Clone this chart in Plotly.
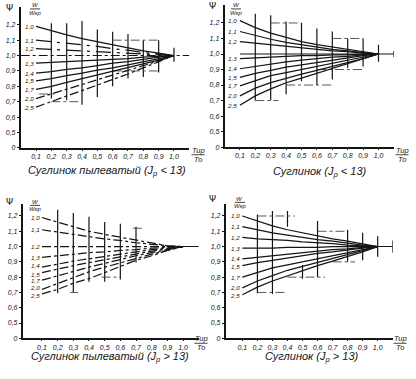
import plotly.graph_objects as go

# ---------------- data ----------------
X = [0.1, 0.2, 0.3, 0.4, 0.5, 0.6, 0.7, 0.8, 0.9, 1.0]
RATIO_LABELS = ["1,0", "1,1", "1,2", "1,3", "1,4", "1,5", "1,7", "2,0", "2,5"]
PSI_TICKS = [0.4, 0.5, 0.6, 0.7, 0.8, 0.9, 1.0, 1.1, 1.2]
PSI_TICKTEXT = ["0", "0,5", "0,6", "0,7", "0,8", "0,9", "1,0", "1,1", "1,2"]
X_TICKTEXT = ["0,1", "0,2", "0,3", "0,4", "0,5", "0,6", "0,7", "0,8", "0,9", "1,0"]
TITLES = ["Суглинок пылеватый (J<sub>р</sub> < 13)", "Суглинок (J<sub>р</sub> < 13)",
          "Суглинок пылеватый (J<sub>р</sub> > 13)", "Суглинок (J<sub>р</sub> > 13)"]
X_TITLE_NUM, X_TITLE_DEN = "Тир", "То"
W_TITLE_NUM, W_TITLE_DEN = "W", "Wкр"

p1_curves = [
    [1.19, 1.16, 1.135, 1.11, 1.09, 1.07, 1.05, 1.03, 1.015, 1.0],
    [1.10, 1.09, 1.08, 1.07, 1.06, 1.045, 1.035, 1.02, 1.01, 1.0],
    [1.045, 1.04, 1.035, 1.03, 1.025, 1.02, 1.015, 1.01, 1.005, 1.0],
    [0.95, 0.955, 0.96, 0.965, 0.97, 0.975, 0.98, 0.99, 0.995, 1.0],
    [0.885, 0.895, 0.91, 0.92, 0.935, 0.95, 0.96, 0.975, 0.99, 1.0],
    [0.835, 0.85, 0.87, 0.885, 0.905, 0.92, 0.94, 0.96, 0.98, 1.0],
    [0.78, 0.80, 0.825, 0.85, 0.87, 0.895, 0.92, 0.945, 0.97, 1.0],
    [0.72, 0.75, 0.78, 0.81, 0.84, 0.87, 0.90, 0.93, 0.965, 1.0],
    [0.665, 0.70, 0.74, 0.775, 0.81, 0.845, 0.88, 0.92, 0.96, 1.0],
]
p2_curves = [
    [1.215, 1.17, 1.135, 1.105, 1.08, 1.06, 1.045, 1.03, 1.015, 1.0],
    [1.145, 1.12, 1.095, 1.075, 1.06, 1.045, 1.03, 1.02, 1.01, 1.0],
    [1.08, 1.07, 1.06, 1.05, 1.04, 1.03, 1.02, 1.015, 1.005, 1.0],
    [0.97, 0.975, 0.98, 0.985, 0.99, 0.99, 0.995, 0.995, 1.0, 1.0],
    [0.905, 0.92, 0.935, 0.95, 0.96, 0.97, 0.98, 0.985, 0.995, 1.0],
    [0.85, 0.875, 0.895, 0.915, 0.93, 0.945, 0.96, 0.975, 0.99, 1.0],
    [0.795, 0.83, 0.86, 0.88, 0.90, 0.92, 0.94, 0.96, 0.98, 1.0],
    [0.73, 0.78, 0.815, 0.845, 0.87, 0.895, 0.92, 0.945, 0.97, 1.0],
    [0.67, 0.73, 0.775, 0.815, 0.845, 0.875, 0.905, 0.935, 0.965, 1.0],
]
p3_curves = [
    [1.19, 1.16, 1.13, 1.10, 1.08, 1.06, 1.04, 1.02, 1.005, 1.0],
    [1.11, 1.095, 1.08, 1.065, 1.05, 1.04, 1.025, 1.015, 1.005, 1.0],
    [1.0, 1.0, 1.0, 1.0, 1.0, 1.0, 1.0, 1.0, 1.0, 1.0],
    [0.93, 0.94, 0.95, 0.96, 0.965, 0.975, 0.98, 0.99, 0.995, 1.0],
    [0.865, 0.885, 0.905, 0.92, 0.935, 0.95, 0.965, 0.98, 0.99, 1.0],
    [0.83, 0.855, 0.875, 0.895, 0.915, 0.935, 0.955, 0.97, 0.985, 1.0],
    [0.78, 0.81, 0.84, 0.865, 0.89, 0.915, 0.94, 0.96, 0.98, 1.0],
    [0.72, 0.76, 0.80, 0.835, 0.865, 0.895, 0.925, 0.95, 0.975, 1.0],
    [0.69, 0.72, 0.76, 0.79, 0.83, 0.87, 0.91, 0.94, 0.975, 1.0],
]
p4_curves = [
    [1.20, 1.165, 1.135, 1.11, 1.09, 1.07, 1.05, 1.035, 1.015, 1.0],
    [1.13, 1.11, 1.09, 1.075, 1.06, 1.045, 1.035, 1.02, 1.01, 1.0],
    [1.06, 1.05, 1.045, 1.04, 1.03, 1.025, 1.02, 1.01, 1.005, 1.0],
    [0.99, 0.99, 0.99, 0.995, 0.995, 0.995, 1.0, 1.0, 1.0, 1.0],
    [0.92, 0.93, 0.94, 0.95, 0.96, 0.97, 0.98, 0.985, 0.995, 1.0],
    [0.875, 0.895, 0.91, 0.925, 0.94, 0.955, 0.965, 0.98, 0.99, 1.0],
    [0.80, 0.83, 0.86, 0.88, 0.90, 0.92, 0.94, 0.96, 0.98, 1.0],
    [0.73, 0.775, 0.81, 0.845, 0.87, 0.895, 0.92, 0.945, 0.97, 1.0],
    [0.685, 0.735, 0.775, 0.81, 0.845, 0.875, 0.905, 0.935, 0.965, 1.0],
]

# scatter ranges (vertical bars)
p1_bar_x = [0.2, 0.3, 0.4, 0.5, 0.6, 0.7, 0.8, 0.9, 1.0]
p1_bar_lo = [0.72, 0.71, 0.68, 0.73, 0.80, 0.85, 0.86, 0.89, 0.96]
p1_bar_hi = [1.21, 1.21, 1.225, 1.17, 1.155, 1.14, 1.10, 1.10, 1.05]
p2_bar_x = [0.2, 0.3, 0.4, 0.5, 0.6, 0.7, 0.8, 0.9, 1.0, 1.1]
p2_bar_lo = [0.70, 0.70, 0.74, 0.825, 0.80, 0.835, 0.91, 0.92, 0.95, 0.98]
p2_bar_hi = [1.26, 1.25, 1.21, 1.20, 1.165, 1.145, 1.10, 1.10, 1.06, 1.02]
p3_bar_x = [0.2, 0.3, 0.4, 0.5, 0.6, 0.7]
p3_bar_lo = [0.695, 0.70, 0.77, 0.77, 0.785, 0.895]
p3_bar_hi = [1.24, 1.22, 1.195, 1.16, 1.15, 1.13]
p4_bar_x = [0.2, 0.3, 0.4, 0.5, 0.6, 0.8, 0.9, 1.0, 1.1]
p4_bar_lo = [0.695, 0.69, 1.13, 0.79, 0.80, 0.90, 0.91, 0.933, 0.96]
p4_bar_hi = [1.21, 1.233, 1.233, 0.88, 1.167, 1.11, 1.09, 1.067, 1.04]

# horizontal range marks
p1_h_y = [1.10, 0.90, 0.70, 0.75]
p1_h_x0 = [0.6, 0.6, 0.2, 0.12]
p1_h_x1 = [0.9, 0.9, 0.4, 0.22]
p2_h_y = [1.20, 1.10, 0.90, 0.80, 0.70]
p2_h_x0 = [0.3, 0.7, 0.6, 0.4, 0.2]
p2_h_x1 = [0.5, 0.9, 0.9, 0.7, 0.35]
p3_h_y = [0.70, 0.80, 1.12]
p3_h_x0 = [0.28, 0.48, 0.68]
p3_h_x1 = [0.33, 0.60, 0.75]
p4_h_y = [1.20, 1.10, 0.90, 0.80, 0.70]
p4_h_x0 = [0.2, 0.6, 0.7, 0.4, 0.2]
p4_h_x1 = [0.45, 0.8, 0.85, 0.65, 0.38]

# reference line Psi = 1 start
ref_x0 = [0.0, 0.1, 0.9, 0.8]

curves = [p1_curves, p2_curves, p3_curves, p4_curves]
bars = [(p1_bar_x, p1_bar_lo, p1_bar_hi), (p2_bar_x, p2_bar_lo, p2_bar_hi),
        (p3_bar_x, p3_bar_lo, p3_bar_hi), (p4_bar_x, p4_bar_lo, p4_bar_hi)]
hsegs = [(p1_h_y, p1_h_x0, p1_h_x1), (p2_h_y, p2_h_x0, p2_h_x1),
         (p3_h_y, p3_h_x0, p3_h_x1), (p4_h_y, p4_h_x0, p4_h_x1)]

# ---------------- styling / layout ----------------
W, H = 416, 379
INK = "#151515"
panels = [
    dict(xd=(20.7, 189.3), yd=(149, 7), xr=(0.0, 1.1), yr=(0.4, 1.316),
         dash=["solid", "longdashdot", "longdashdot", "solid", "solid", "solid", "solid", "dashdot", "dashdot"],
         ref_dash="dashdot",
         title_xy=(107, 172), frac_xy=(198, 156), psi_xy=(9, 8), w_xy=(35, 9),
         lab_shift=[0, 0, 0, 0, 0, 0, 0, 0, 0]),
    dict(xd=(224.5, 393.9), yd=(148.3, 5), xr=(0.0, 1.1), yr=(0.4, 1.316),
         dash=["solid"] * 9, ref_dash="solid",
         title_xy=(320, 173), frac_xy=(402, 156), psi_xy=(212, 6), w_xy=(236, 9),
         lab_shift=[0, 0, 0, 0, 0, 0, 0, 0, 0]),
    dict(xd=(22.7, 198.7), yd=(341, 206), xr=(-0.023, 1.1), yr=(0.4, 1.276),
         dash=["dashdot"] * 9, ref_dash="solid",
         title_xy=(110, 360), frac_xy=(201, 346), psi_xy=(9, 204), w_xy=(35, 207),
         lab_shift=[0, 0, 0, 0, 1.5, -1.5, 0, 1.5, -1.5]),
    dict(xd=(225.7, 392.7), yd=(341, 206), xr=(-0.011, 1.1), yr=(0.4, 1.276),
         dash=["solid"] * 9, ref_dash="solid",
         title_xy=(312, 360), frac_xy=(400, 346), psi_xy=(213, 201), w_xy=(240, 204),
         lab_shift=[0, 0, 0, 0, 0.5, -0.5, 0, 0.5, -0.5]),
]

fig = go.Figure()
layout = dict(width=W, height=H, margin=dict(l=0, r=0, t=0, b=0),
              paper_bgcolor="white", plot_bgcolor="white", showlegend=False)
annotations = []
shapes = []
tick_font = dict(family="Liberation Sans", size=7, color=INK, style="italic")


def paper_text(x, y, text, size, family="Liberation Sans", style="italic"):
    annotations.append(dict(x=x / W, y=1 - y / H, xref="paper", yref="paper", text=text,
                            showarrow=False, xanchor="center", yanchor="middle",
                            font=dict(family=family, size=size, color=INK, style=style)))


def fraction(x, y, num, den, size, half_w):
    paper_text(x, y - size * 0.62, num, size)
    paper_text(x, y + size * 0.62, den, size)
    shapes.append(dict(type="line", xref="paper", yref="paper",
                       x0=(x - half_w) / W, x1=(x + half_w) / W,
                       y0=1 - y / H, y1=1 - y / H, line=dict(color=INK, width=0.8)))


for i, p in enumerate(panels):
    n = "" if i == 0 else str(i + 1)
    xa, ya = "x" + n, "y" + n
    layout["xaxis" + n] = dict(
        domain=[p["xd"][0] / W, p["xd"][1] / W], range=list(p["xr"]), anchor=ya,
        showgrid=False, zeroline=False, showline=True, linecolor=INK, linewidth=1.6,
        tickvals=X, ticktext=X_TICKTEXT, ticks="outside", ticklen=1, tickcolor=INK,
        tickfont=tick_font)
    layout["yaxis" + n] = dict(
        domain=[1 - p["yd"][0] / H, 1 - p["yd"][1] / H], range=list(p["yr"]), anchor=xa,
        showgrid=False, zeroline=False, showline=True, linecolor=INK, linewidth=1.6,
        tickvals=PSI_TICKS, ticktext=PSI_TICKTEXT, ticks="outside", ticklen=2, tickcolor=INK,
        tickfont=tick_font)

    # reference line at Psi = 1
    fig.add_trace(go.Scatter(x=[ref_x0[i], 1.1], y=[1.0, 1.0], mode="lines",
                             line=dict(color=INK, width=1.1, dash=p["ref_dash"]),
                             xaxis=xa, yaxis=ya, hoverinfo="skip"))
    # vertical bars
    bx, blo, bhi = bars[i]
    vx, vy = [], []
    for xv, lo, hi in zip(bx, blo, bhi):
        vx += [xv, xv, None]
        vy += [lo, hi, None]
    fig.add_trace(go.Scatter(x=vx, y=vy, mode="lines", line=dict(color=INK, width=1.2),
                             xaxis=xa, yaxis=ya, hoverinfo="skip"))
    # horizontal marks
    hy, hx0, hx1 = hsegs[i]
    sx, sy = [], []
    for yv, a, b in zip(hy, hx0, hx1):
        sx += [a, b, None]
        sy += [yv, yv, None]
    fig.add_trace(go.Scatter(x=sx, y=sy, mode="lines",
                             line=dict(color="#444", width=0.9, dash="dashdot"),
                             xaxis=xa, yaxis=ya, hoverinfo="skip"))
    # curves
    for k, c in enumerate(curves[i]):
        fig.add_trace(go.Scatter(x=X, y=c, mode="lines",
                                 line=dict(color=INK, width=1.25, dash=p["dash"][k]),
                                 xaxis=xa, yaxis=ya))
        annotations.append(dict(x=0.097, y=c[0], xref=xa, yref=ya, text=RATIO_LABELS[k],
                                showarrow=False, xanchor="right", yanchor="middle",
                                yshift=p["lab_shift"][k],
                                font=dict(family="Liberation Sans", size=6.2, color=INK, style="italic")))

    # panel texts
    tx, ty = p["title_xy"]
    paper_text(tx, ty, TITLES[i], 11)
    fx, fy = p["frac_xy"]
    fraction(fx, fy, X_TITLE_NUM, X_TITLE_DEN, 7.5, 6.5)
    px, py = p["psi_xy"]
    paper_text(px, py, "Ψ", 9, family="DejaVu Sans", style="normal")
    wx, wy = p["w_xy"]
    fraction(wx, wy, W_TITLE_NUM, W_TITLE_DEN, 6, 5)

layout["annotations"] = annotations
layout["shapes"] = shapes
fig.update_layout(**layout)
fig.write_html("out.html", config={"displayModeBar": False},
               post_script="document.body.style.margin='0';")
